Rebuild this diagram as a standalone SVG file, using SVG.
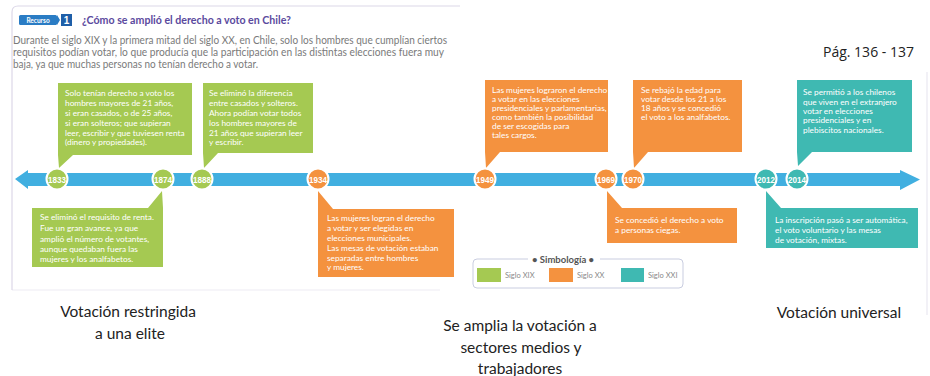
<svg xmlns="http://www.w3.org/2000/svg" width="930" height="376" viewBox="0 0 930 376">
<style>
.bt{font-family:Lato,"Liberation Sans",sans-serif;font-size:8.3px;fill:#fff}
.yr{font-family:"Liberation Sans",sans-serif;font-size:9px;font-weight:bold;fill:#fff;text-anchor:middle}
.cap{font-family:Lato,"Liberation Sans",sans-serif;font-size:15.5px;fill:#222;text-anchor:middle}
.body{font-family:Lato,"Liberation Sans",sans-serif;font-size:10.5px;fill:#7a7a7a}
.g{fill:#a5c952}.o{fill:#f4923f}.t{fill:#3fb9b2}
.dot{stroke:#fff;stroke-width:2}
.frame{fill:none;stroke:#dcd8e8;stroke-width:1.2}
.lg{font-family:Lato,"Liberation Sans",sans-serif;font-size:7.5px;fill:#8a8a8a}
</style>
<rect width="930" height="376" fill="#fff"/>
<g id="frame">
<path class="frame" d="M460,6 H18 Q12,6 12,12 V290"/>
<path class="frame" d="M12,290 H440" stroke-opacity="0.5"/>
<path class="frame" d="M927,72 V315" stroke-opacity="0.6"/>
</g>
<g id="header">
<rect x="19" y="15" width="38" height="10" rx="1.5" fill="#2a7cc4"/>
<polygon points="57,15 60,20 57,25" fill="#2a7cc4"/>
<text x="38" y="22.5" font-family="Lato,'Liberation Sans',sans-serif" font-size="6.5" font-weight="bold" fill="#fff" text-anchor="middle">Recurso</text>
<rect x="61" y="14" width="11" height="12" fill="#1f5fa8"/>
<text x="66.5" y="24" font-family="'Liberation Sans',sans-serif" font-size="10" font-weight="bold" fill="#fff" text-anchor="middle">1</text>
<text x="82" y="24" font-family="Lato,'Liberation Sans',sans-serif" font-size="11.5" font-weight="bold" fill="#5b4a9e" textLength="209" lengthAdjust="spacingAndGlyphs">¿Cómo se amplió el derecho a voto en Chile?</text>
<text class="body" x="13" y="44" textLength="434" lengthAdjust="spacingAndGlyphs">Durante el siglo XIX y la primera mitad del siglo XX, en Chile, solo los hombres que cumplían ciertos</text>
<text class="body" x="13" y="56" textLength="431" lengthAdjust="spacingAndGlyphs">requisitos podían votar, lo que producía que la participación en las distintas elecciones fuera muy</text>
<text class="body" x="13" y="68" textLength="245" lengthAdjust="spacingAndGlyphs">baja, ya que muchas personas no tenían derecho a votar.</text>
</g>
<text id="pag" x="823" y="57" font-family="'Open Sans','Liberation Sans',sans-serif" font-size="14" fill="#222">Pág. 136 - 137</text>
<g id="connectors">
<polygon points="15,179 28,170 28,173 900,173 900,170 920,179.5 900,190 900,186 28,186 28,189" fill="#41afe0"/>
</g>
<g id="box-1833">
<polygon class="g" points="58,83 192,83 192,155 73,155 59,168 58,155"/>
<text class="bt" x="65" y="96">Solo tenían derecho a voto los</text>
<text class="bt" x="65" y="106">hombres mayores de 21 años,</text>
<text class="bt" x="65" y="116">si eran casados, o de 25 años,</text>
<text class="bt" x="65" y="126">si eran solteros; que supieran</text>
<text class="bt" x="65" y="135.5">leer, escribir y que tuviesen renta</text>
<text class="bt" x="65" y="145">(dinero y propiedades).</text>
</g>
<g id="box-1888">
<polygon class="g" points="203,83 313,83 313,153 218,153 204,168 203,153"/>
<text class="bt" x="209" y="96">Se eliminó la diferencia</text>
<text class="bt" x="209" y="106">entre casados y solteros.</text>
<text class="bt" x="209" y="116">Ahora podían votar todos</text>
<text class="bt" x="209" y="126">los hombres mayores de</text>
<text class="bt" x="209" y="135.5">21 años que supieran leer</text>
<text class="bt" x="209" y="145">y escribir.</text>
</g>
<g id="box-1874">
<polygon class="g" points="32,208 148,208 162,191 163,208 163,267 32,267"/>
<text class="bt" x="40" y="220">Se eliminó el requisito de renta.</text>
<text class="bt" x="40" y="231">Fue un gran avance, ya que</text>
<text class="bt" x="40" y="241.5">amplió el número de votantes,</text>
<text class="bt" x="40" y="252">aunque quedaban fuera las</text>
<text class="bt" x="40" y="262">mujeres y los analfabetos.</text>
</g>
<g id="box-1934">
<polygon class="o" points="318,209 318,191 333,209 454,209 454,277 318,277"/>
<text class="bt" x="327" y="221">Las mujeres logran el derecho</text>
<text class="bt" x="327" y="231">a votar y ser elegidas en</text>
<text class="bt" x="327" y="240.5">elecciones municipales.</text>
<text class="bt" x="327" y="250.5">Las mesas de votación estaban</text>
<text class="bt" x="327" y="260.5">separadas entre hombres</text>
<text class="bt" x="327" y="270">y mujeres.</text>
</g>
<g id="box-1949">
<polygon class="o" points="485,80 608,80 608,152 500,152 486,168 485,152"/>
<text class="bt" x="492" y="93">Las mujeres lograron el derecho</text>
<text class="bt" x="492" y="102">a votar en las elecciones</text>
<text class="bt" x="492" y="111">presidenciales y parlamentarias,</text>
<text class="bt" x="492" y="120">como también la posibilidad</text>
<text class="bt" x="492" y="129">de ser escogidas para</text>
<text class="bt" x="492" y="138">tales cargos.</text>
</g>
<g id="box-1970">
<polygon class="o" points="633,80 742,80 742,152 648,152 634,168 633,152"/>
<text class="bt" x="641" y="93">Se rebajó la edad para</text>
<text class="bt" x="641" y="102">votar desde los 21 a los</text>
<text class="bt" x="641" y="111">18 años y se concedió</text>
<text class="bt" x="641" y="120">el voto a los analfabetos.</text>
</g>
<g id="box-2014">
<polygon class="t" points="797,80 912,80 912,152 812,152 798,166 797,152"/>
<text class="bt" x="803" y="95">Se permitió a los chilenos</text>
<text class="bt" x="803" y="104.5">que viven en el extranjero</text>
<text class="bt" x="803" y="114">votar en elecciones</text>
<text class="bt" x="803" y="123">presidenciales y en</text>
<text class="bt" x="803" y="132.5">plebiscitos nacionales.</text>
</g>
<g id="box-1969">
<polygon class="o" points="607,208 607,191 622,208 737,208 737,243 607,243"/>
<text class="bt" x="615" y="223">Se concedió el derecho a voto</text>
<text class="bt" x="615" y="233">a personas ciegas.</text>
</g>
<g id="box-2012">
<polygon class="t" points="766,208 766,191 781,208 918,208 918,248 766,248"/>
<text class="bt" x="775" y="223">La inscripción pasó a ser automática,</text>
<text class="bt" x="775" y="233">el voto voluntario y las mesas</text>
<text class="bt" x="775" y="243">de votación, mixtas.</text>
</g>
<g id="years">
<circle class="g dot" cx="57" cy="179" r="10.5"/><text class="yr" x="57" y="182.5" textLength="18" lengthAdjust="spacingAndGlyphs">1833</text>
<circle class="g dot" cx="163" cy="179" r="10.5"/><text class="yr" x="163" y="182.5" textLength="18" lengthAdjust="spacingAndGlyphs">1874</text>
<circle class="g dot" cx="202" cy="179" r="10.5"/><text class="yr" x="202" y="182.5" textLength="18" lengthAdjust="spacingAndGlyphs">1888</text>
<circle class="o dot" cx="318" cy="179" r="10.5"/><text class="yr" x="318" y="182.5" textLength="18" lengthAdjust="spacingAndGlyphs">1934</text>
<circle class="o dot" cx="485" cy="179" r="10.5"/><text class="yr" x="485" y="182.5" textLength="18" lengthAdjust="spacingAndGlyphs">1949</text>
<circle class="o dot" cx="606" cy="179" r="10.5"/><text class="yr" x="606" y="182.5" textLength="18" lengthAdjust="spacingAndGlyphs">1969</text>
<circle class="o dot" cx="633" cy="179" r="10.5"/><text class="yr" x="633" y="182.5" textLength="18" lengthAdjust="spacingAndGlyphs">1970</text>
<circle class="t dot" cx="766" cy="179" r="10.5"/><text class="yr" x="766" y="182.5" textLength="18" lengthAdjust="spacingAndGlyphs">2012</text>
<circle class="t dot" cx="797" cy="179" r="10.5"/><text class="yr" x="797" y="182.5" textLength="18" lengthAdjust="spacingAndGlyphs">2014</text>
</g>
<g id="legend">
<rect x="473" y="259" width="210" height="29" rx="4" fill="#fff" stroke="#c9cde0" stroke-width="1"/>
<rect x="528" y="253" width="72" height="10" fill="#fff"/>
<text x="563" y="262.5" font-family="Lato,'Liberation Sans',sans-serif" font-size="9.5" font-weight="bold" fill="#555" text-anchor="middle">• Simbología •</text>
<rect class="g" x="477" y="268" width="24" height="14"/>
<text class="lg" x="505" y="278">Siglo XIX</text>
<rect class="o" x="549" y="268" width="24" height="14"/>
<text class="lg" x="577" y="278">Siglo XX</text>
<rect class="t" x="621" y="268" width="23" height="14"/>
<text class="lg" x="648" y="278">Siglo XXI</text>
</g>
<g id="captions">
<text class="cap" x="128" y="317">Votación restringida</text>
<text class="cap" x="130" y="339">a una elite</text>
<text class="cap" x="520" y="331">Se amplia la votación a</text>
<text class="cap" x="521" y="353">sectores medios y</text>
<text class="cap" x="520" y="374">trabajadores</text>
<text class="cap" x="839" y="318">Votación universal</text>
</g>
</svg>
